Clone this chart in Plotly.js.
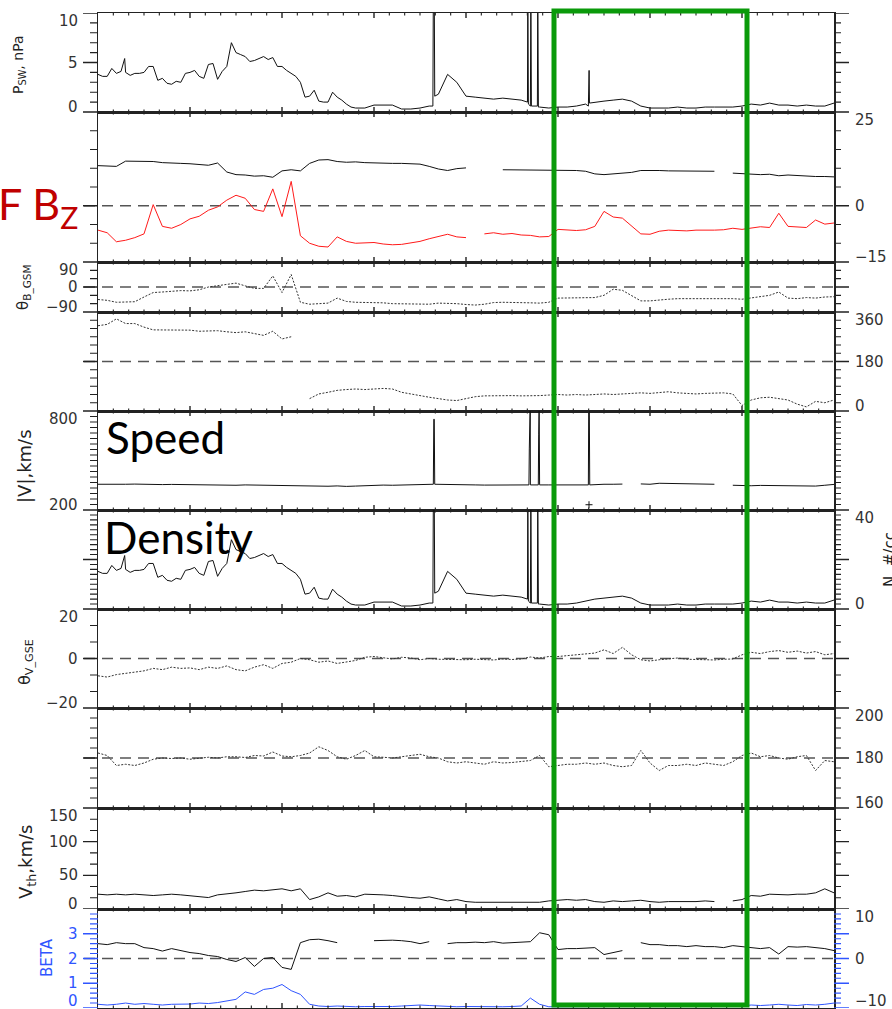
<!DOCTYPE html>
<html>
<head>
<meta charset="utf-8">
<script src="https://cdn.plot.ly/plotly-3.0.1.min.js"></script>
<style>
  html, body { margin: 0; padding: 0; background: #fff; }
  #chart { width: 892px; height: 1009px; }
</style>
</head>
<body>
<div id="chart"></div>
<script>
// ---------------- DATA (time in days from left edge) ----------------
const days = [0.0,0.1,0.2,0.3,0.4,0.5,0.6,0.7,0.8,0.9,1.0,1.1,1.2,1.3,1.4,1.5,1.6,1.7,1.8,1.9,
  2.0,2.1,2.2,2.3,2.4,2.5,2.6,2.7,2.8,2.9,3.0,3.1,3.2,3.3,3.4,3.5,3.6,3.7,3.8,3.9,
  4.0,4.1,4.2,4.3,4.4,4.5,4.6,4.7,4.8,4.9,5.0,5.1,5.2,5.3,5.4,5.5,5.6,5.7,5.8,5.9,
  6.0,6.1,6.2,6.3,6.4,6.5,6.6,6.7,6.8,6.9,7.0,7.1,7.2,7.3,7.4,7.5,7.6,7.7,7.8,7.9,8.0];

// Solar wind dynamic pressure, nPa
const psw = [3.8,3.6,3.9,4.0,3.9,4.0,4.6,3.4,2.8,3.0,4.0,3.6,4.8,3.3,4.6,6.0,5.6,5.2,5.6,5.5,
  4.6,3.9,3.0,1.6,1.1,1.0,1.5,0.8,0.4,0.4,0.7,0.7,0.7,0.3,0.3,0.4,0.6,1.8,3.8,3.0,
  1.6,1.5,1.4,1.3,1.4,1.3,1.2,0.6,0.5,0.4,0.5,0.5,0.6,0.8,1.0,1.1,1.2,1.3,1.1,0.6,
  0.4,0.4,0.4,0.5,0.4,0.4,0.5,0.5,0.5,0.5,0.6,0.8,0.7,0.9,0.7,0.7,0.6,0.7,0.6,0.6,0.9];
const pswDetailT = [0.05,0.15,0.25,0.29,0.35,0.45,0.55,0.65,0.75,0.85,0.95,1.05,1.15,1.25,1.35,1.45,1.55,1.65,1.75,1.85,1.95,2.05,2.15,2.25,2.35,2.45,2.55,2.65,2.75];
const pswDetailV = [3.6,4.4,4.1,5.4,3.7,3.9,4.6,3.2,2.9,3.1,3.9,4.2,3.4,4.9,4.1,7.0,5.8,5.1,5.4,5.3,4.6,4.2,3.6,1.5,2.2,1.0,2.0,1.2,0.5];
const pswSpikeT = [3.640,3.645,3.655,3.660, 4.668,4.672,4.678, 4.700,4.705,4.711, 4.776,4.780,4.787, 5.330,5.334,5.338,5.342];
const pswSpikeV = [0.6,12,12,1.6, 1.0,12,0.8, 0.8,12,0.6, 0.6,12,0.5, 0.6,4.2,4.2,0.9];

// |B| (black) and Bz (red), nT
const bt = [10.7,10.7,10.5,11.9,11.9,12.0,11.8,11.5,11.3,11.3,11.2,11.0,10.8,11.4,9.0,8.3,8.2,7.9,8.0,7.6,
  9.3,9.6,9.3,11.3,12.2,12.3,11.8,11.6,11.7,11.5,11.4,11.2,11.3,11.3,11.2,11.1,10.5,9.8,9.4,9.9,
  10.1,null,9.9,null,9.6,9.6,9.5,9.6,9.6,9.6,9.6,9.5,9.4,9.2,8.5,8.3,8.5,8.7,8.9,9.4,
  9.5,9.4,9.3,9.3,9.2,9.2,9.2,9.2,null,8.7,8.5,8.5,8.3,8.4,8.0,8.2,8.0,7.9,7.8,7.8,7.7];
const bz = [-6.5,-7.2,-9.6,-9.2,-8.5,-7.5,0.3,-5.5,-6.0,-5.0,-3.5,-2.8,-1.2,-0.3,1.5,2.8,2.0,-1.0,-1.5,4.5,
  -2.9,6.5,-8.0,-10.0,-10.8,-11.0,-8.3,-9.5,-10.0,-10.0,-9.8,-10.2,-10.4,-10.3,-10.0,-9.5,-8.8,-8.2,-7.6,-8.3,
  -8.5,null,-7.5,-7.2,-7.6,-7.4,-7.8,-7.9,-8.3,-8.2,-6.3,-6.5,-6.6,-6.4,-5.5,-1.5,-3.0,-3.3,-5.5,-7.5,
  -7.6,-6.8,-6.5,-6.6,-6.7,-6.5,-6.6,-6.5,-6.4,-6.0,-6.3,-6.0,-5.6,-5.8,-2.0,-5.5,-5.6,-5.8,-3.8,-4.9,-4.6];

// theta_B GSM, deg
const thetaB = [-45,-48,-55,-55,-53,-36,-20,-18,-15,-13,-14,-10,0,5,10,14,4,-5,-5,40,
  -20,45,-55,-62,-60,-58,-40,-52,-55,-55,-55,-57,-60,-60,-62,-60,-62,-58,-58,-60,
  -63,-65,-62,-56,-55,-55,-56,-57,-58,-55,-40,-40,-38,-40,-38,-30,-8,-12,-30,-50,
  -50,-46,-44,-42,-42,-40,-42,-42,-40,-42,-44,-40,-35,-30,-18,-40,-42,-38,-40,-36,-35];

// phi_B GSM, deg (null marks the 360 -> 0 wrap)
const phiB = [310,315,335,318,318,305,295,295,295,294,294,290,290,292,288,285,288,282,275,290,
  262,270,null,45,62,68,75,78,80,78,80,82,80,68,62,55,50,45,40,38,
  45,52,55,56,55,56,55,55,56,58,60,58,60,58,60,62,60,62,64,66,
  64,66,70,66,64,62,64,66,66,62,20,40,48,50,45,40,25,15,35,30,40];

// |V|, km/s
const speed = [356,355,358,356,357,355,356,354,355,354,352,353,352,351,352,350,352,351,352,351,
  350,347,345,344,342,344,346,343,345,348,350,351,350,352,351,353,357,356,355,356,
  354,352,351,352,352,351,352,352,353,352,353,354,352,353,355,356,356,357,null,358,
  356,362,361,358,356,355,358,356,null,350,348,347,349,348,350,349,348,347,345,350,355];
const speedSpikeT = [3.645,3.650,3.655,3.660, 4.684,4.688,4.693,4.698,4.704, 4.786,4.790,4.795,4.800, 5.330,5.334,5.340,5.345];
const speedSpikeV = [356,750,750,356, 352,570,850,850,352, 352,660,850,352, 352,850,850,352];
const speedDotT = [5.337];
const speedDotV = [232];

// Proton density, #/cc
const dens = [15.2,14.4,15.6,16.0,15.6,16.0,18.4,13.6,11.2,12.0,16.0,14.4,19.2,13.2,18.4,24.0,22.4,20.8,22.4,22.0,
  18.4,15.6,12.0,6.4,4.4,4.0,6.0,3.2,1.6,1.6,2.8,2.8,2.8,1.2,1.2,1.6,2.4,7.2,15.2,12.0,
  6.4,6.0,5.6,5.2,5.6,5.2,4.8,2.4,2.0,1.6,2.0,2.0,2.4,3.2,4.0,4.4,4.8,5.2,4.4,2.4,
  1.6,1.6,1.6,2.0,1.6,1.6,2.0,2.0,2.0,2.0,2.4,3.2,2.8,3.6,2.8,2.8,2.4,2.8,2.4,2.4,3.6];
const densDetailT = [0.05,0.15,0.25,0.29,0.35,0.45,0.55,0.65,0.75,0.85,0.95,1.05,1.15,1.25,1.35,1.45,1.55,1.65,1.75,1.85,1.95,2.05,2.15,2.25,2.35,2.45,2.55,2.65,2.75];
const densDetailV = [14.4,17.6,16.4,21.6,14.8,15.6,18.4,12.8,11.6,12.4,15.6,16.8,13.6,19.6,16.4,28.0,23.2,20.4,21.6,21.2,18.4,16.8,14.4,6.0,8.8,4.0,8.0,4.8,2.0];
const densSpikeT = [3.640,3.645,3.655,3.660, 4.668,4.672,4.678, 4.700,4.705,4.711, 4.776,4.780,4.787];
const densSpikeV = [2.4,45,45,6.4, 4.0,45,3.2, 3.2,45,2.4, 2.4,45,2.0];

// theta_V GSE, deg
const thetaV = [-7,-7.5,-6.5,-6.0,-5.5,-5.0,-4.0,-4.5,-3.5,-4.0,-3.8,-4.5,-3.5,-4.0,-3.0,-4.5,-5.0,-3.5,-2.5,-4.0,
  -2.0,-1.5,0.0,-0.5,-1.5,-1.0,-2.0,-1.5,-0.8,0.5,0.8,0.3,-0.2,0.5,0.2,-0.5,0.0,-0.3,-0.4,-0.2,
  -0.5,-0.3,-0.5,-0.6,-0.2,-0.4,-0.2,0.6,0.2,0.8,0.8,1.2,1.5,1.8,2.2,3.5,2.0,4.5,1.5,-0.5,
  -1.0,-0.5,-0.2,0.2,-0.3,-0.4,-0.2,-0.6,-0.3,-0.2,1.5,2.5,2.0,2.8,3.2,2.5,3.0,2.2,2.8,1.5,2.0];

// phi_V GSE, deg
const phiV = [182,181,177,177.5,177,178,179.5,180,179.8,180,179.5,180,180.3,180,180.5,180.5,180.2,181,180.8,182.4,
  180.8,180.5,181,182,184.5,183,180.5,179.5,181,183,180.5,180.3,180,180.5,181,181.5,180.5,180,178.5,178,
  178.5,178,177.5,178.5,178,178.2,178.5,179,181,176.5,177,177.5,177.5,178,177.5,178,177,176.5,177,183,
  178,175,177,177,177.5,177,178,177.5,177,178.5,181,182,180.5,181,180,179.5,180.5,181,175,179,178.5];

// Thermal speed, km/s
const vth = [22,21,22,21,22,21,20,21,22,21,20,19,17,21,22,24,26,28,27,29,
  30,27,30,14,18,24,19,20,18,22,22,21,20,18,17,16,18,15,12,14,
  11,10,10,9,9,10,9,10,10,12,13,14,13,14,11,10,12,11,12,13,
  11,10,11,11,10,11,12,11,null,12,14,20,19,22,21,21,22,22,24,30,24];

// Bottom panel: black trace (right axis) and plasma beta (blue, left axis)
const lowBlack = [3.0,2.8,3.2,3.0,3.0,2.2,2.0,1.5,2.0,1.6,1.2,1.0,0.6,0.4,-0.2,-0.6,0.2,-1.6,0.0,0.2,
  -1.8,-2.2,3.2,3.8,3.9,3.6,3.2,null,3.4,null,3.6,3.7,3.7,3.6,3.4,3.0,3.4,null,3.0,3.2,
  3.2,3.3,3.2,3.4,3.1,3.2,3.3,3.4,5.2,4.8,1.8,2.0,2.0,2.1,2.2,0.8,1.2,1.6,null,3.2,
  2.8,2.8,2.6,2.6,2.4,2.6,2.4,2.4,2.2,2.6,2.4,2.2,2.0,2.2,0.9,2.4,2.3,2.4,2.2,2.0,1.6];
const beta = [0.15,0.12,0.15,0.2,0.15,0.18,0.15,0.12,0.15,0.14,0.16,0.2,0.18,0.22,0.28,0.35,0.65,0.55,0.75,0.8,
  0.95,0.7,0.55,0.15,0.08,0.06,0.08,0.05,0.05,0.06,0.05,0.05,0.06,0.08,0.1,0.12,0.1,0.08,0.06,0.05,
  0.06,0.05,0.05,0.05,0.05,0.06,0.08,0.4,0.15,0.05,0.05,0.05,0.05,0.05,0.05,0.05,0.05,0.05,0.05,0.05,
  0.05,0.05,0.05,0.05,0.05,0.05,0.05,0.05,0.05,0.05,0.08,0.12,0.1,0.12,0.15,0.12,0.1,0.14,0.12,0.15,0.2];

// ---------------- helpers ----------------
function mergeSeries(t, v, extras) {
  let pts = t.map((x, i) => [x, v[i]]);
  extras.forEach(([et, ev]) => { pts = pts.concat(et.map((x, i) => [x, ev[i]])); });
  pts.sort((a, b) => a[0] - b[0]);
  return { x: pts.map(p => p[0]), y: pts.map(p => p[1]) };
}
function fmt(v) { return (v < 0 ? '\u2212' + Math.abs(v) : String(v)); }
function f5(v) { return (+v).toFixed(5); }

// ---------------- LAYOUT GEOMETRY ----------------
const W = 892, H = 1009;
const plotLeft = 98, plotRight = 834;
const edges = [13, 112, 262, 312, 411, 510, 609, 708, 808, 909, 1008];
const xd = [plotLeft / W, plotRight / W];
function yd(k) { return [1 - edges[k + 1] / H, 1 - edges[k] / H]; }
function sfx(n) { return n === 1 ? '' : String(n); }

const AX = '#222';
const BLUE = '#2f55ff';
const labelFont = { family: 'DejaVu Sans, sans-serif', size: 15, color: '#333' };

const layout = {
  width: W, height: H,
  margin: { l: 0, r: 0, t: 0, b: 0 },
  paper_bgcolor: '#fff', plot_bgcolor: '#fff',
  showlegend: false,
  shapes: [], annotations: []
};

// per panel: range, major tick values, minor step, labelled values and side of labels
const ySpecs = [
  { range: [0, 10], major: [0, 5, 10], minor: 1, labels: [0, 5, 10], side: 'left' },
  { range: [-15, 25], major: [-15, 0, 25], minor: 5, labels: [-15, 0, 25], side: 'right' },
  { range: [-90, 90], major: [-90, 0, 90], minor: 30, labels: [-90, 0, 90], side: 'left' },
  { range: [0, 360], major: [0, 180, 360], minor: 30, labels: [0, 180, 360], side: 'right' },
  { range: [200, 800], major: [200, 800], minor: 100 / 3, labels: [200, 800], side: 'left' },
  { range: [0, 40], major: [0, 20, 40], minor: 2, labels: [0, 40], side: 'right' },
  { range: [-20, 20], major: [-20, 0, 20], minor: 20 / 3, labels: [-20, 0, 20], side: 'left' },
  { range: [160, 200], major: [160, 180, 200], minor: 4, labels: [160, 180, 200], side: 'right' },
  { range: [0, 150], major: [0, 50, 100, 150], minor: 50 / 3, labels: [0, 50, 100, 150], side: 'left' },
  { range: [0, 4], major: [0, 1, 2, 3], minor: 0.2, labels: [0, 1, 2, 3], side: 'left', skipTop: true }
];

function addTickLabels(yref, range, vals, side, color, bottomShift) {
  vals.forEach(v => {
    let shift = 0;
    if (v === range[1]) shift = -8;
    else if (v === range[0]) shift = bottomShift || 5;
    layout.annotations.push({
      xref: 'paper', yref: yref, x: side === 'left' ? 80 / W : 853 / W, y: v,
      xanchor: side === 'left' ? 'right' : 'left', yanchor: 'middle', yshift: shift,
      text: fmt(v), showarrow: false,
      font: Object.assign({}, labelFont, color ? { color: color } : {})
    });
  });
}

// y tick marks (outside, both sides) drawn as paths in the axis' own data units
function addYTicks(yref, s, color) {
  const xl = plotLeft / W, xr = plotRight / W;
  let pMaj = '', pMin = '';
  const nSteps = Math.round((s.range[1] - s.range[0]) / s.minor);
  for (let i = 0; i <= nSteps; i++) {
    const v = s.range[0] + i * s.minor;
    if (s.skipTop && i === nSteps) continue;
    const isMaj = s.major.some(m => Math.abs(m - v) < 1e-6);
    const lenL = (isMaj ? 15 : 8) / W, lenR = (isMaj ? 15 : 7) / W;
    const seg = `M${f5(xl - lenL)},${f5(v)}L${f5(xl)},${f5(v)}M${f5(xr)},${f5(v)}L${f5(xr + lenR)},${f5(v)}`;
    if (isMaj) pMaj += seg; else pMin += seg;
  }
  [[pMaj, 1.4], [pMin, 1.1]].forEach(([p, w]) => {
    if (p) layout.shapes.push({ type: 'path', xref: 'paper', yref: yref, path: p,
      line: { color: color, width: w }, layer: 'above' });
  });
}

// time tick marks (inside, top and bottom of each panel)
function addXTicks(xref, k) {
  const yb = 1 - edges[k + 1] / H, yt = 1 - edges[k] / H;
  let pMaj = '', pMin = '';
  for (let i = 1; i < 48; i++) {
    const t = i / 6;
    const isMaj = (i % 6 === 0);
    const len = (isMaj ? 5 : 2.5) / H;
    const seg = `M${f5(t)},${f5(yb)}L${f5(t)},${f5(yb + len)}M${f5(t)},${f5(yt)}L${f5(t)},${f5(yt - len)}`;
    if (isMaj) pMaj += seg; else pMin += seg;
  }
  [[pMaj, 1.4], [pMin, 1.1]].forEach(([p, w]) => {
    layout.shapes.push({ type: 'path', xref: xref, yref: 'paper', path: p,
      line: { color: AX, width: w }, layer: 'above' });
  });
}

for (let k = 0; k < 10; k++) {
  const n = k + 1;
  const s = ySpecs[k];
  const isBeta = (k === 9);
  const xId = 'x' + sfx(n), yId = 'y' + sfx(n);
  layout['xaxis' + sfx(n)] = {
    domain: xd, anchor: yId, range: [0, 8],
    showticklabels: false, showgrid: false, zeroline: false, ticks: '',
    showline: true, linecolor: AX, linewidth: 1.5, mirror: true
  };
  layout['yaxis' + sfx(n)] = {
    domain: yd(k), anchor: xId, range: s.range, side: 'left',
    showticklabels: false, showgrid: false, zeroline: false, ticks: '',
    showline: true, linecolor: AX, linewidth: 1.5, mirror: true
  };
  addYTicks(yId, s, isBeta ? BLUE : AX);
  addXTicks(xId, k);
  addTickLabels(yId, s.range, s.labels, s.side, isBeta ? BLUE : null, isBeta ? 7 : 5);
}
// right-hand scale of the bottom panel (black trace)
const lowRange = [-10, 10];
layout.yaxis11 = {
  overlaying: 'y10', anchor: 'x10', side: 'right', range: lowRange,
  showticklabels: false, ticks: '', showline: false, showgrid: false, zeroline: false
};
addTickLabels('y11', lowRange, [-10, 0, 10], 'right', null, 7);

// dashed reference lines
const dashRefs = [['y2', 0], ['y3', 0], ['y4', 180], ['y7', 0], ['y8', 180], ['y11', 0]];
dashRefs.forEach(([yr, v]) => {
  layout.shapes.push({
    type: 'line', xref: 'paper', yref: yr, x0: 84 / W, x1: plotRight / W, y0: v, y1: v,
    line: { color: '#555', width: 1.5, dash: '11px,7px' }, layer: 'below'
  });
});

// green highlight box
layout.shapes.push({
  type: 'rect', xref: 'paper', yref: 'paper',
  x0: 554 / W, x1: 747 / W, y0: 1 - 1005 / H, y1: 1 - 11 / H,
  line: { color: '#0a9a0a', width: 5 }, fillcolor: 'rgba(0,0,0,0)', layer: 'above'
});

// axis titles (rotated)
function vtitle(text, xpx, ypx, size, color) {
  layout.annotations.push({
    xref: 'paper', yref: 'paper', x: xpx / W, y: 1 - ypx / H, text: text,
    textangle: -90, showarrow: false, xanchor: 'center', yanchor: 'middle',
    font: { family: 'DejaVu Sans, sans-serif', size: size, color: color || '#222' }
  });
}
vtitle('P<sub>SW</sub>, nPa', 19, 65, 14);
vtitle('θ<sub>B_GSM</sub>', 24, 287, 15);
vtitle('|V|,km/s', 25, 466, 18);
vtitle('θ<sub>V_GSE</sub>', 25, 662, 16);
vtitle('V<sub>th</sub>,km/s', 27, 862, 18);
vtitle('BETA', 47, 958, 15, BLUE);
vtitle('N, #/cc', 890, 560, 15);

// overlay labels
const bigFont = { family: 'Lato, Open Sans, sans-serif', size: 44, color: '#000' };
layout.annotations.push({ xref: 'paper', yref: 'paper', x: 104 / W, y: 1 - 437 / H, text: 'Speed',
  showarrow: false, xanchor: 'left', yanchor: 'middle', font: bigFont });
layout.annotations.push({ xref: 'paper', yref: 'paper', x: 102 / W, y: 1 - 537 / H, text: 'Density',
  showarrow: false, xanchor: 'left', yanchor: 'middle', font: bigFont });
layout.annotations.push({ xref: 'paper', yref: 'paper', x: -0.004, y: 1 - 207 / H, text: 'F B<sub>Z</sub>',
  showarrow: false, xanchor: 'left', yanchor: 'middle',
  font: { family: 'Lato, Open Sans, sans-serif', size: 43, color: '#c00000' } });

// ---------------- TRACES ----------------
const blk = { color: '#111', width: 1 };
const dotted = { color: '#333', width: 1, dash: '2px,1.5px' };
const p1 = mergeSeries(days, psw, [[pswDetailT, pswDetailV], [pswSpikeT, pswSpikeV]]);
const p5 = mergeSeries(days, speed, [[speedSpikeT, speedSpikeV]]);
const p6 = mergeSeries(days, dens, [[densDetailT, densDetailV], [densSpikeT, densSpikeV]]);

const traces = [
  { x: p1.x, y: p1.y, xaxis: 'x', yaxis: 'y', mode: 'lines', line: blk },
  { x: days, y: bt, xaxis: 'x2', yaxis: 'y2', mode: 'lines', line: blk },
  { x: days, y: bz, xaxis: 'x2', yaxis: 'y2', mode: 'lines', line: { color: '#ff1a1a', width: 1 } },
  { x: days, y: thetaB, xaxis: 'x3', yaxis: 'y3', mode: 'lines', line: dotted },
  { x: days, y: phiB, xaxis: 'x4', yaxis: 'y4', mode: 'lines', line: dotted },
  { x: p5.x, y: p5.y, xaxis: 'x5', yaxis: 'y5', mode: 'lines', line: blk },
  { x: speedDotT, y: speedDotV, xaxis: 'x5', yaxis: 'y5', mode: 'markers',
    marker: { symbol: 'cross-thin', size: 5, line: { color: '#111', width: 1 } } },
  { x: p6.x, y: p6.y, xaxis: 'x6', yaxis: 'y6', mode: 'lines', line: blk },
  { x: days, y: thetaV, xaxis: 'x7', yaxis: 'y7', mode: 'lines', line: dotted },
  { x: days, y: phiV, xaxis: 'x8', yaxis: 'y8', mode: 'lines', line: dotted },
  { x: days, y: vth, xaxis: 'x9', yaxis: 'y9', mode: 'lines', line: blk },
  { x: days, y: beta, xaxis: 'x10', yaxis: 'y10', mode: 'lines', line: { color: BLUE, width: 1 } },
  { x: days, y: lowBlack, xaxis: 'x10', yaxis: 'y11', mode: 'lines', line: blk }
];

Plotly.newPlot('chart', traces, layout, { displayModeBar: false, staticPlot: true });
</script>
</body>
</html>
